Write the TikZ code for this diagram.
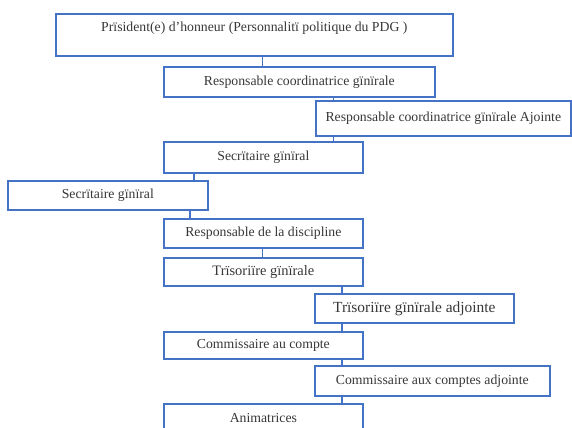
\documentclass[tikz,border=0pt]{standalone}
\usepackage{fontspec}
\setmainfont{Liberation Serif}
\usetikzlibrary{positioning,calc}
\definecolor{chartblue}{RGB}{68,114,196}
\definecolor{chartgrey}{RGB}{55,55,55}

\begin{document}
\begin{tikzpicture}[
  x=1bp, y=1bp,
  font=\fontsize{13.8}{15}\selectfont,
  post/.style = {draw=chartblue, line width=1.7bp, text=chartgrey, anchor=north west,
                 inner sep=0pt, align=center},
  main/.style = {post, minimum width=199bp},
  side/.style = {post, minimum width=199bp},
  link/.style = {chartblue, line width=1.3bp},
]
\useasboundingbox (0,0) rectangle (572,-427);

% ----------------------------- connector columns --------------------------
\coordinate (cmain) at (262.5,0);
\coordinate (cadj)  at (333.5,0);
\coordinate (cright) at (342,0);
\coordinate (csec)  at (194,0);
\coordinate (csec2) at (190,0);

% ----------------------------- boxes --------------------------------------
\node[post, minimum width=397bp, minimum height=42bp, text depth=17bp] (pres) at (55,-13)
  {Prïsident(e) d’honneur (Personnalitï politique du PDG )};
\node[post, minimum width=271bp, minimum height=30bp] (coord) at (163,-66)
  {Responsable coordinatrice gïnïrale};
\node[post, minimum width=255bp, minimum height=35bp] (coordadj) at (315,-100)
  {Responsable coordinatrice gïnïrale Ajointe};
\node[main, minimum height=31bp] (secg) at (163,-141) {Secrïtaire gïnïral};
\node[post, minimum width=200bp, minimum height=29bp] (secgb) at (7,-180)
  {Secrïtaire gïnïral};
\node[main, minimum height=29bp] (disc) at (163,-218) {Responsable de la discipline};
\node[main, minimum height=28bp, font=\fontsize{14.5}{16}\selectfont] (treso) at (163,-257)
  {Trïsoriïre gïnïrale};
\node[side, minimum height=29bp, font=\fontsize{15.5}{17}\selectfont] (tresoadj) at (314,-293)
  {Trïsoriïre gïnïrale adjointe};
\node[main, minimum height=27bp] (comm) at (163,-331) {Commissaire au compte};
\node[post, minimum width=235bp, minimum height=30bp] (commadj) at (314,-365)
  {Commissaire aux comptes adjointe};
\node[main, minimum height=28bp] (anim) at (163,-403) {Animatrices};

% ----------------------------- links --------------------------------------
\draw[link] (pres.south -| cmain) -- (coord.north -| cmain);
\draw[link] (coord.south -| cadj) -- (coordadj.north -| cadj);
\draw[link] (coordadj.south -| cadj) -- (secg.north -| cadj);
\draw[link] (secg.south -| csec) -- (secgb.north -| csec);
\draw[link] (secgb.south -| csec2) -- (disc.north -| csec2);
\draw[link] (disc.south -| cmain) -- (treso.north -| cmain);
\draw[link] (treso.south -| cright) -- (tresoadj.north -| cright);
\draw[link] (tresoadj.south -| cright) -- (comm.north -| cright);
\draw[link] (comm.south -| cright) -- (commadj.north -| cright);
\draw[link] (commadj.south -| cright) -- (anim.north -| cright);

\end{tikzpicture}
\end{document}
